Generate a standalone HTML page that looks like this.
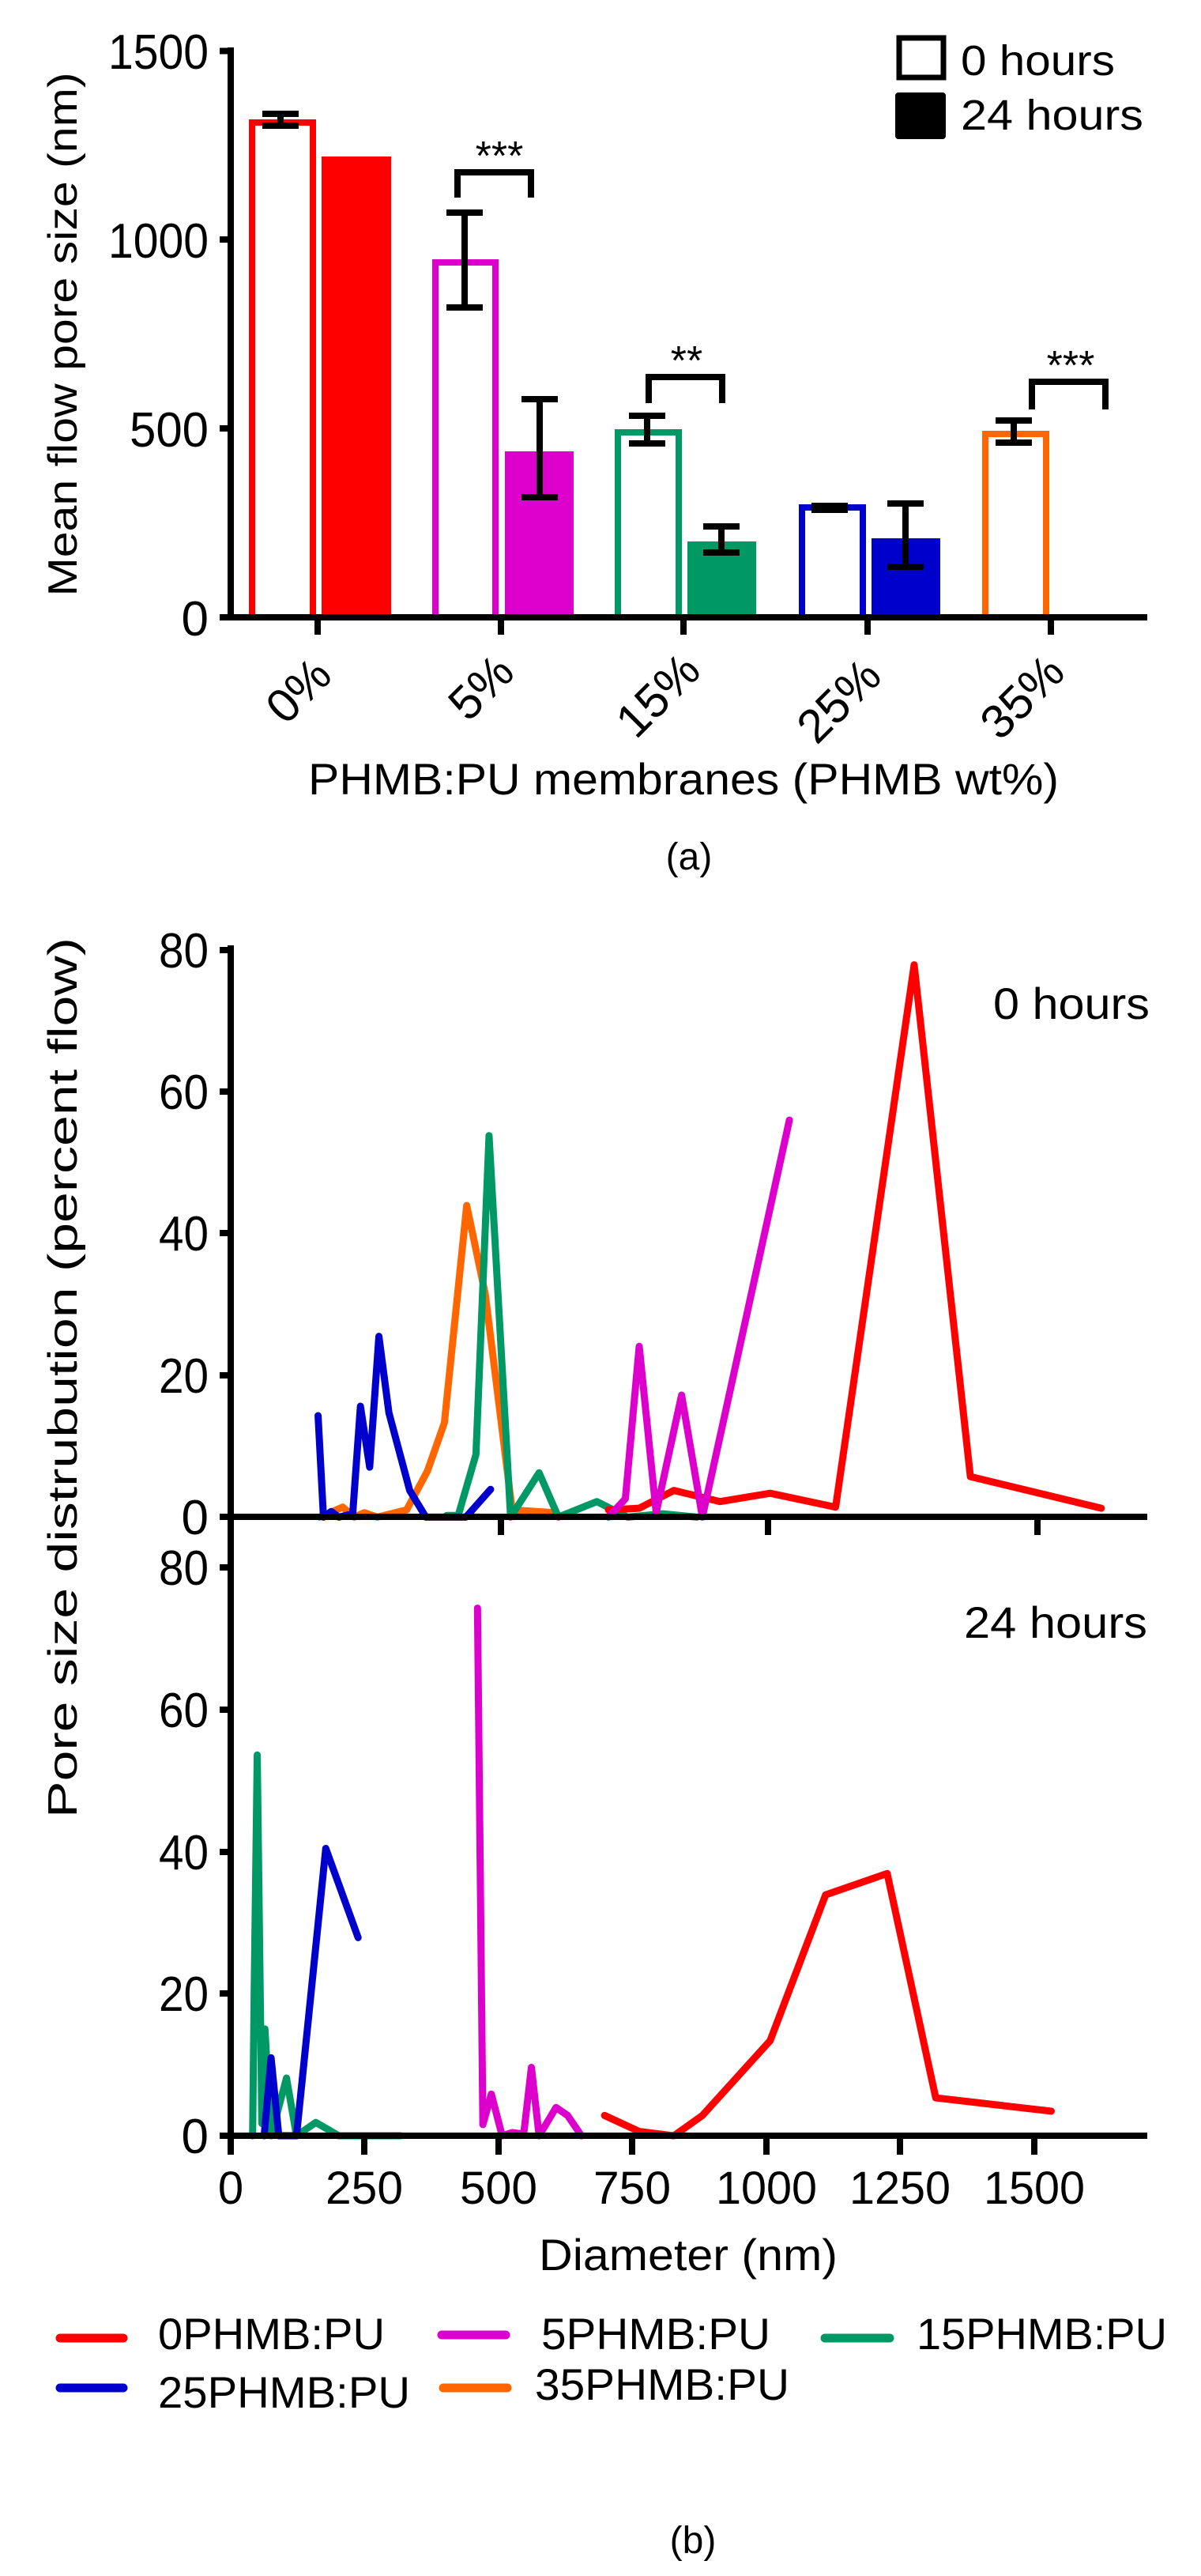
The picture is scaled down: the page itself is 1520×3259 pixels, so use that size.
<!DOCTYPE html>
<html><head><meta charset="utf-8"><style>
html,body{margin:0;padding:0;background:#fff;}
svg{display:block;}
text{font-family:"Liberation Sans",sans-serif;fill:#000;}
</style></head><body>
<svg width="1520" height="3259" viewBox="0 0 1520 3259" xmlns="http://www.w3.org/2000/svg">
<!-- ===== (a) bar chart ===== -->
<g stroke-linecap="butt">
<!-- bars -->
<rect x="319" y="155" width="77" height="626" fill="#fff" stroke="#ff0000" stroke-width="8"/>
<rect x="407" y="198" width="88" height="583" fill="#ff0000"/>
<rect x="551" y="332" width="76" height="449" fill="#fff" stroke="#dd00cc" stroke-width="8"/>
<rect x="639" y="571" width="87" height="210" fill="#dd00cc"/>
<rect x="782" y="547" width="77" height="234" fill="#fff" stroke="#009966" stroke-width="8"/>
<rect x="870" y="685" width="87" height="96" fill="#009966"/>
<rect x="1015" y="642" width="77" height="139" fill="#fff" stroke="#0000cc" stroke-width="8"/>
<rect x="1103" y="681" width="87" height="100" fill="#0000cc"/>
<rect x="1247" y="549" width="77" height="232" fill="#fff" stroke="#ff6600" stroke-width="8"/>
<!-- error bars -->
<g stroke="#000" stroke-width="8" fill="none">
<path d="M355 144V159M332 144H378M332 159H378"/>
<path d="M588 269V389M565 269H611M565 389H611"/>
<path d="M683 505V629M660 505H706M660 629H706"/>
<path d="M819 526V561M796 526H842M796 561H842"/>
<path d="M913 666V699M890 666H936M890 699H936"/>
<path d="M1050 640V645M1027 640H1073M1027 645H1073"/>
<path d="M1146 637V717M1123 637H1169M1123 717H1169"/>
<path d="M1283 532V560M1260 532H1306M1260 560H1306"/>
<!-- brackets -->
<path d="M579 250V218H672V250"/>
<path d="M821 510V477H914V510"/>
<path d="M1306 518V483H1399V518"/>
</g>
<text x="632" y="215" font-size="52" text-anchor="middle">***</text>
<text x="869" y="474" font-size="52" text-anchor="middle">**</text>
<text x="1355" y="480" font-size="52" text-anchor="middle">***</text>
<!-- axes -->
<g stroke="#000" stroke-width="8" fill="none">
<path d="M292 60V785M288 781H1452"/>
<path d="M278 64.5H292M278 303H292M278 542H292M278 781H292"/>
<path d="M402 781V803M634 781V803M865 781V803M1098 781V803M1330 781V803"/>
</g>
<g font-size="62" text-anchor="end">
<text x="264" y="87" textLength="127" lengthAdjust="spacingAndGlyphs">1500</text>
<text x="264" y="326" textLength="127" lengthAdjust="spacingAndGlyphs">1000</text>
<text x="264" y="565" textLength="100" lengthAdjust="spacingAndGlyphs">500</text>
<text x="264" y="804">0</text>
</g>
<text transform="translate(97,423) rotate(-90)" font-size="52" text-anchor="middle" textLength="663" lengthAdjust="spacingAndGlyphs">Mean flow pore size (nm)</text>
<g font-size="60" text-anchor="middle">
<text transform="translate(378,874) rotate(-45)" dy="20">0%</text>
<text transform="translate(609,870) rotate(-45)" dy="20">5%</text>
<text transform="translate(833,880) rotate(-45)" dy="20">15%</text>
<text transform="translate(1062,887) rotate(-45)" dy="20">25%</text>
<text transform="translate(1294,882) rotate(-45)" dy="20">35%</text>
</g>
<text x="865" y="1005" font-size="56" text-anchor="middle" textLength="950" lengthAdjust="spacingAndGlyphs">PHMB:PU membranes (PHMB wt%)</text>
<!-- legend -->
<rect x="1138" y="48" width="56" height="50" fill="#fff" stroke="#000" stroke-width="7"/>
<rect x="1133" y="117" width="64" height="59" fill="#000" rx="4"/>
<text x="1216" y="95" font-size="54" textLength="195" lengthAdjust="spacingAndGlyphs">0 hours</text>
<text x="1216" y="164" font-size="54" textLength="231" lengthAdjust="spacingAndGlyphs">24 hours</text>
<text x="872" y="1100" font-size="48" text-anchor="middle">(a)</text>
</g>

<!-- ===== (b) line charts ===== -->
<g fill="none" stroke-width="9" stroke-linejoin="round" stroke-linecap="round">
<!-- top panel, zoom2 coords -->
<g transform="translate(0,1100) scale(0.9747,0.7015)">
<polyline vector-effect="non-scaling-stroke" stroke="#ff6600" points="415,1168 445,1150 460,1168 473,1160 490,1168 528,1155 555,1085 577,998 606,606 630,765 665,1155 720,1160"/>
<polyline vector-effect="non-scaling-stroke" stroke="#009966" points="580,1165 595,1165 618,1055 635,480 663,1168 700,1088 725,1168 775,1140 815,1168 860,1162 905,1168"/>
<polyline vector-effect="non-scaling-stroke" stroke="#0000cc" points="413,985 420,1168 430,1158 440,1168 458,1162 468,968 480,1078 492,842 505,980 532,1120 553,1168 605,1168 637,1118"/>
<polyline vector-effect="non-scaling-stroke" stroke="#ff0000" points="790,1155 830,1152 875,1120 935,1140 1000,1125 1085,1150 1187,172 1260,1095 1430,1152"/>
<polyline vector-effect="non-scaling-stroke" stroke="#dd00cc" points="790,1168 812,1135 830,860 852,1160 885,948 912,1168 1025,452"/>
</g>
<!-- bottom panel, zoom3 coords -->
<g transform="translate(0,2200) scale(0.9747,0.6757)">
<polyline vector-effect="non-scaling-stroke" stroke="#ff0000" points="785,705 830,735 875,743 912,705 1000,565 1072,292 1152,252 1215,672 1365,697"/>
<polyline vector-effect="non-scaling-stroke" stroke="#dd00cc" points="620,-245 627,722 638,665 652,743 665,737 680,740 690,615 700,743 722,690 737,705 755,743"/>
<polyline vector-effect="non-scaling-stroke" stroke="#009966" points="328,743 330,478 334,30 340,720 344,543 352,743 372,635 385,743 410,718 440,743 520,743"/>
<polyline vector-effect="non-scaling-stroke" stroke="#0000cc" points="343,743 352,597 362,743 385,743 423,205 465,372"/>
</g>
</g>
<g stroke="#000" stroke-width="8" fill="none">
<path d="M292 1196V2706"/>
<path d="M288 1919H1452M288 2702H1452"/>
<path d="M278 1202H292M278 1381H292M278 1560H292M278 1740H292M278 1919H292"/>
<path d="M278 1983H292M278 2163H292M278 2343H292M278 2522H292M278 2702H292"/>
<path d="M634 1919V1942M972 1919V1942M1313 1919V1942"/>
<path d="M292 2702V2726M461 2702V2726M631 2702V2726M800 2702V2726M970 2702V2726M1139 2702V2726M1309 2702V2726"/>
</g>
<g font-size="62" text-anchor="end">
<text x="264" y="1224" textLength="63" lengthAdjust="spacingAndGlyphs">80</text>
<text x="264" y="1403" textLength="63" lengthAdjust="spacingAndGlyphs">60</text>
<text x="264" y="1582" textLength="63" lengthAdjust="spacingAndGlyphs">40</text>
<text x="264" y="1762" textLength="63" lengthAdjust="spacingAndGlyphs">20</text>
<text x="264" y="1941">0</text>
<text x="264" y="2005" textLength="63" lengthAdjust="spacingAndGlyphs">80</text>
<text x="264" y="2185" textLength="63" lengthAdjust="spacingAndGlyphs">60</text>
<text x="264" y="2365" textLength="63" lengthAdjust="spacingAndGlyphs">40</text>
<text x="264" y="2544" textLength="63" lengthAdjust="spacingAndGlyphs">20</text>
<text x="264" y="2724">0</text>
</g>
<g font-size="58" text-anchor="middle">
<text x="292" y="2788">0</text>
<text x="461" y="2788" textLength="98" lengthAdjust="spacingAndGlyphs">250</text>
<text x="631" y="2788" textLength="98" lengthAdjust="spacingAndGlyphs">500</text>
<text x="800" y="2788" textLength="98" lengthAdjust="spacingAndGlyphs">750</text>
<text x="970" y="2788" textLength="128" lengthAdjust="spacingAndGlyphs">1000</text>
<text x="1139" y="2788" textLength="128" lengthAdjust="spacingAndGlyphs">1250</text>
<text x="1309" y="2788" textLength="128" lengthAdjust="spacingAndGlyphs">1500</text>
</g>
<text x="871" y="2872" font-size="56" text-anchor="middle" textLength="378" lengthAdjust="spacingAndGlyphs">Diameter (nm)</text>
<text transform="translate(97,1743) rotate(-90)" font-size="52" text-anchor="middle" textLength="1114" lengthAdjust="spacingAndGlyphs">Pore size distrubution (percent flow)</text>
<text x="1455" y="1289" font-size="56" text-anchor="end" textLength="198" lengthAdjust="spacingAndGlyphs">0 hours</text>
<text x="1452" y="2072" font-size="56" text-anchor="end" textLength="232" lengthAdjust="spacingAndGlyphs">24 hours</text>
<!-- legend -->
<g stroke-width="11" stroke-linecap="round">
<line x1="76" y1="2958" x2="156" y2="2958" stroke="#ff0000"/>
<line x1="559" y1="2954" x2="640" y2="2954" stroke="#dd00cc"/>
<line x1="1044" y1="2958" x2="1126" y2="2958" stroke="#009966"/>
<line x1="76" y1="3021" x2="156" y2="3021" stroke="#0000cc"/>
<line x1="561" y1="3021" x2="642" y2="3021" stroke="#ff6600"/>
</g>
<g font-size="56">
<text x="200" y="2972" textLength="287" lengthAdjust="spacingAndGlyphs">0PHMB:PU</text>
<text x="685" y="2972" textLength="290" lengthAdjust="spacingAndGlyphs">5PHMB:PU</text>
<text x="1160" y="2972" textLength="317" lengthAdjust="spacingAndGlyphs">15PHMB:PU</text>
<text x="200" y="3046" textLength="319" lengthAdjust="spacingAndGlyphs">25PHMB:PU</text>
<text x="677" y="3036" textLength="322" lengthAdjust="spacingAndGlyphs">35PHMB:PU</text>
</g>
<text x="877" y="3230" font-size="48" text-anchor="middle">(b)</text>
</svg>
</body></html>
